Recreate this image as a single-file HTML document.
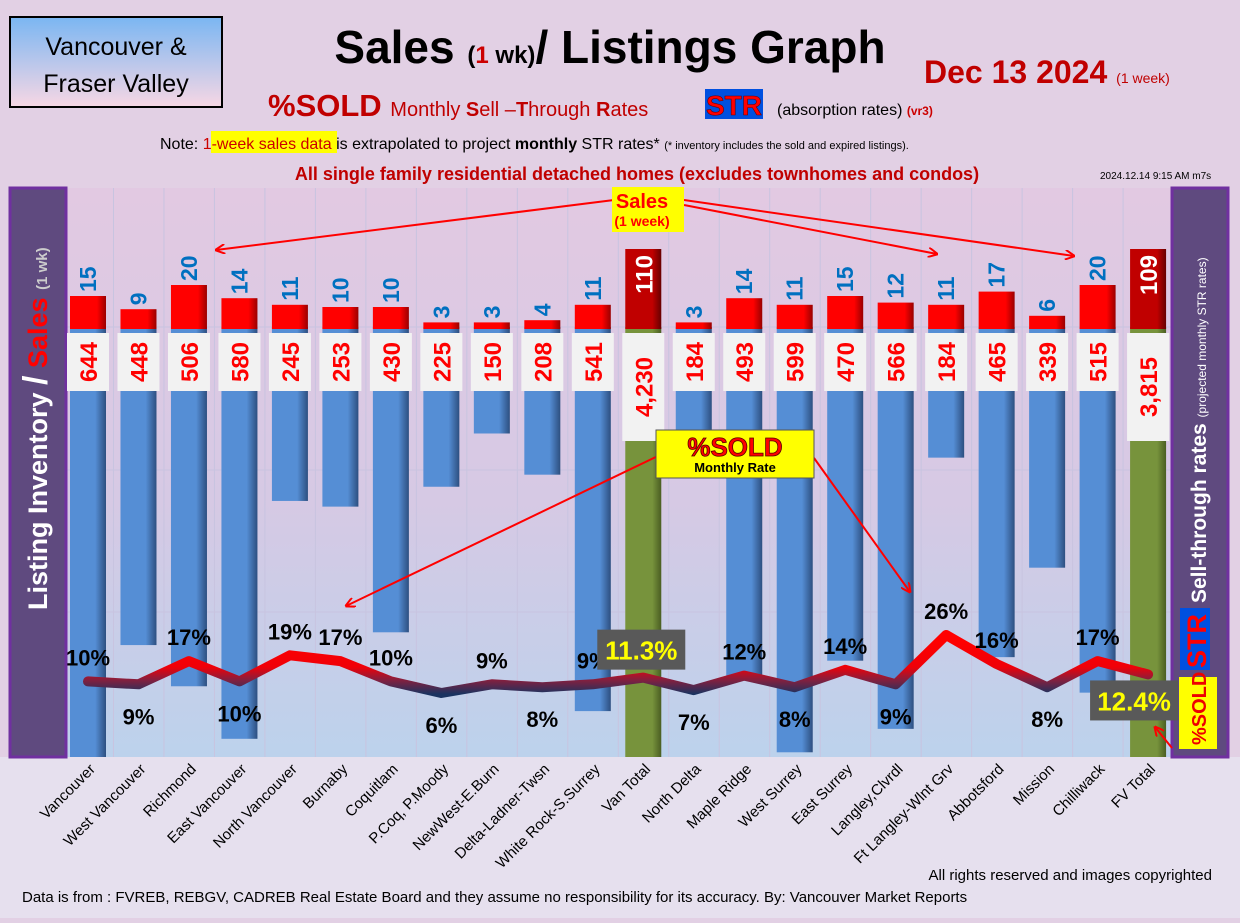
<!DOCTYPE html>
<html><head><meta charset="utf-8"><style>
body{margin:0;width:1240px;height:918px;overflow:hidden;background:#e2d0e4;font-family:"Liberation Sans",sans-serif}
svg text{font-family:"Liberation Sans",sans-serif}
</style></head><body>
<svg id="chart" width="1240" height="918" viewBox="0 0 1240 918" xmlns="http://www.w3.org/2000/svg">
<defs>
<linearGradient id="bg" x1="0" y1="0" x2="0" y2="1"><stop offset="0" stop-color="#e2c9e2"/><stop offset="0.55" stop-color="#d6c9e4"/><stop offset="1" stop-color="#bcd2ec"/></linearGradient>
<linearGradient id="hdr" x1="0" y1="0" x2="0" y2="1"><stop offset="0" stop-color="#7ab6f2"/><stop offset="1" stop-color="#f7d7e4"/></linearGradient>
<linearGradient id="blue" x1="0" x2="1"><stop offset="0" stop-color="#558ed5"/><stop offset="0.7" stop-color="#558ed5"/><stop offset="1" stop-color="#2d4f80"/></linearGradient>
<linearGradient id="red" x1="0" x2="1"><stop offset="0" stop-color="#ff0000"/><stop offset="0.75" stop-color="#ff0000"/><stop offset="1" stop-color="#900"/></linearGradient>
<linearGradient id="dred" x1="0" x2="1"><stop offset="0" stop-color="#c00000"/><stop offset="0.75" stop-color="#c00000"/><stop offset="1" stop-color="#600"/></linearGradient>
<linearGradient id="green" x1="0" x2="1"><stop offset="0" stop-color="#77933c"/><stop offset="0.75" stop-color="#77933c"/><stop offset="1" stop-color="#4a5e22"/></linearGradient>
<linearGradient id="line" gradientUnits="userSpaceOnUse" x1="0" y1="640" x2="0" y2="694"><stop offset="0" stop-color="#ff0000"/><stop offset="0.5" stop-color="#f00008"/><stop offset="0.75" stop-color="#802040"/><stop offset="1" stop-color="#1a3360"/></linearGradient>
<marker id="ah" markerWidth="10" markerHeight="10" refX="9" refY="5" orient="auto" markerUnits="userSpaceOnUse"><path d="M0,0 L10,5 L0,10" fill="none" stroke="#f00" stroke-width="2"/></marker>
</defs>
<rect x="0" y="0" width="1240" height="918" fill="#e2d0e4"/>
<rect x="0" y="757" width="1240" height="161" fill="#e6e0ee"/>
<rect x="66" y="188" width="1106" height="569" fill="url(#bg)"/>
<g id="grid"></g>
<rect x="10" y="17" width="212" height="90" fill="url(#hdr)" stroke="#000" stroke-width="2"/>
<text x="116" y="55" font-size="25" text-anchor="middle">Vancouver &amp;</text>
<text x="116" y="92" font-size="25" text-anchor="middle">Fraser Valley</text>
<text x="610" y="63" font-size="46" font-weight="bold" text-anchor="middle">Sales <tspan font-size="24">(<tspan fill="#c00">1</tspan> wk)</tspan>/ Listings Graph</text>
<text x="924" y="83" font-size="32" font-weight="bold" fill="#c00000">Dec 13  2024 <tspan font-size="14" font-weight="normal">(1 week)</tspan></text>
<text x="268" y="116" font-size="31" font-weight="bold" fill="#c00000">%SOLD <tspan font-size="20" font-weight="normal">Monthly <tspan font-weight="bold">S</tspan>ell –<tspan font-weight="bold">T</tspan>hrough <tspan font-weight="bold">R</tspan>ates</tspan></text>
<rect x="705" y="89" width="58" height="30" fill="#0050e0"/>
<text x="734" y="115" font-size="28" font-weight="bold" fill="#f00" text-anchor="middle" stroke="#600" stroke-width="0.6">STR</text>
<text x="777" y="115" font-size="16">(absorption rates) <tspan fill="#c00" font-weight="bold" font-size="12">(vr3)</tspan></text>
<rect x="211" y="131" width="126" height="22" fill="#ffff00"/>
<text x="160" y="149" font-size="16">Note: <tspan fill="#c00">1-week sales data</tspan> is extrapolated to project <tspan font-weight="bold">monthly</tspan> STR rates* <tspan font-size="11">(* inventory includes the sold and expired listings).</tspan></text>
<text x="637" y="180" font-size="18" font-weight="bold" fill="#c00000" text-anchor="middle">All single family residential detached homes (excludes townhomes and condos)</text>
<text x="1100" y="179" font-size="10">2024.12.14 9:15 AM m7s</text>
<rect x="10" y="188" width="56" height="569" fill="#5f4a7f" stroke="#7030a0" stroke-width="3"/>
<text transform="translate(47,610) rotate(-90)" font-size="27" font-weight="bold" fill="#fff">Listing Inventory <tspan font-size="34">/</tspan> <tspan fill="#f00">Sales</tspan> <tspan font-size="15" fill="#ccc">(1 wk)</tspan></text>
<rect x="1172" y="188" width="56" height="569" fill="#5f4a7f" stroke="#7030a0" stroke-width="3"/>
<rect x="1179" y="677" width="38" height="72" fill="#ffff00"/>
<text transform="translate(1206,745) rotate(-90)" font-size="20" font-weight="bold" fill="#e00">%SOLD</text>
<rect x="1180" y="608" width="30" height="62" fill="#0050e0"/>
<text transform="translate(1206,668) rotate(-90)" font-size="27" font-weight="bold" fill="#f00">STR</text>
<text transform="translate(1206,603) rotate(-90)" font-size="21" font-weight="bold" fill="#fff">Sell-through rates <tspan font-size="12" font-weight="normal">(projected monthly STR rates)</tspan></text>
<g id="bars"></g>
<g id="linegrp"></g>
<g id="labels"></g>
<g>
<line x1="614" y1="200" x2="216" y2="250" stroke="#f00" stroke-width="2" marker-end="url(#ah)"/>
<line x1="684" y1="205" x2="937" y2="254" stroke="#f00" stroke-width="2" marker-end="url(#ah)"/>
<line x1="684" y1="200" x2="1074" y2="256" stroke="#f00" stroke-width="2" marker-end="url(#ah)"/>
<rect x="612" y="187" width="72" height="45" fill="#ffff00"/>
<text x="642" y="208" font-size="20" font-weight="bold" fill="#f00" text-anchor="middle">Sales</text>
<text x="642" y="226" font-size="14" font-weight="bold" fill="#f00" text-anchor="middle">(1 week)</text>
</g>
<g>
<line x1="660" y1="455" x2="346" y2="606" stroke="#f00" stroke-width="2" marker-end="url(#ah)"/>
<line x1="814" y1="458" x2="910" y2="592" stroke="#f00" stroke-width="2" marker-end="url(#ah)"/>
<line x1="1172" y1="748" x2="1155" y2="727" stroke="#f00" stroke-width="2" marker-end="url(#ah)"/>
<rect x="656" y="430" width="158" height="48" fill="#ffff00" stroke="#555" stroke-width="1"/>
<text x="735" y="456" font-size="26" font-weight="bold" fill="#f00" stroke="#500" stroke-width="0.8" text-anchor="middle">%SOLD</text>
<text x="735" y="472" font-size="13" font-weight="bold" text-anchor="middle">Monthly Rate</text>
</g>
<text x="1212" y="880" font-size="15" text-anchor="end">All rights reserved and  images copyrighted</text>
<text x="22" y="902" font-size="15">Data is from : FVREB, REBGV, CADREB Real Estate Board and they assume no responsibility for its accuracy. By: Vancouver Market Reports</text>
</svg>
<script>
const categories=["Vancouver","West Vancouver","Richmond","East Vancouver","North Vancouver","Burnaby","Coquitlam","P.Coq, P.Moody","NewWest-E.Burn","Delta-Ladner-Twsn","White Rock-S.Surrey","Van Total","North Delta","Maple Ridge","West Surrey","East Surrey","Langley,Clvrdl","Ft Langley-Wlnt Grv","Abbotsford","Mission","Chilliwack","FV Total"];
const sales=[15,9,20,14,11,10,10,3,3,4,11,110,3,14,11,15,12,11,17,6,20,109];
const inventory=[644,448,506,580,245,253,430,225,150,208,541,4230,184,493,599,470,566,184,465,339,515,3815];
const strPct=[10,9,17,10,19,17,10,6,9,8,9,11.3,7,12,8,14,9,26,16,8,17,12.4];
const labelAbove=[1,0,1,0,1,1,1,0,1,0,1,1,0,1,0,1,0,1,1,0,1,0];
const isTotal=[0,0,0,0,0,0,0,0,0,0,0,1,0,0,0,0,0,0,0,0,0,1];
const NS="http://www.w3.org/2000/svg";
const X=i=>88+i*50.48;
const yInv=v=>Math.min(757,327+0.71*v);
const ySales=v=>Math.max(249,329-2.2*v);
const yPct=v=>710.4-2.9*v;
function mk(tag,attrs,parent,txt){const e=document.createElementNS(NS,tag);for(const k in attrs)e.setAttribute(k,attrs[k]);if(txt!==undefined)e.textContent=txt;parent.appendChild(e);return e;}
const grid=document.getElementById('grid'),bars=document.getElementById('bars'),lg=document.getElementById('linegrp'),lb=document.getElementById('labels');
for(let i=0;i<=categories.length;i++){mk('line',{x1:X(i)-25,y1:188,x2:X(i)-25,y2:757,stroke:'#c8c4e0','stroke-width':1},grid);}
[327,470,612].forEach(y=>mk('line',{x1:66,y1:y,x2:1172,y2:y,stroke:'#c8c4e0','stroke-width':1},grid));
categories.forEach((c,i)=>{
 const x=X(i);
 const b=mk('rect',{x:x-18,y:327,width:36,height:yInv(inventory[i])-327,fill:isTotal[i]?'url(#green)':'url(#blue)'},bars);
 
 
 const st=ySales(sales[i]);
 const r=mk('rect',{x:x-18,y:st,width:36,height:329-st,fill:isTotal[i]?'url(#dred)':'url(#red)'},bars);
 
 
 if(isTotal[i]){
  const t=mk('text',{transform:`translate(${x+9},${st+6}) rotate(-90)`,'font-size':24,'font-weight':'bold',fill:'#fff','text-anchor':'end'},lb,String(sales[i]));
  
  
 } else {
  const t=mk('text',{transform:`translate(${x+8},${st-4}) rotate(-90)`,'font-size':23,'font-weight':'bold',fill:'#0070c0'},lb,String(sales[i]));
  
  
 }
 const bh=isTotal[i]?108:58;
 mk('rect',{x:x-21,y:333,width:42,height:bh,fill:'#f2f2f2'},lb);
 const it=mk('text',{transform:`translate(${x+9},${333+bh/2}) rotate(-90)`,'font-size':24,'font-weight':'bold',fill:'#f00','text-anchor':'middle'},lb,inventory[i].toLocaleString('en-US'));
 
 
 const cl=mk('text',{transform:`translate(${x+8},770) rotate(-45)`,'font-size':15,'text-anchor':'end'},lb,c);
 
 
});
const pts=strPct.map((v,i)=>X(i)+','+yPct(v)).join(' ');
const pl=mk('polyline',{points:pts,fill:'none',stroke:'url(#line)','stroke-width':10,'stroke-linejoin':'round','stroke-linecap':'round'},lg);


strPct.forEach((v,i)=>{
 const x=X(i),y=yPct(v);
 if(isTotal[i]){
  const txt=v.toFixed(1)+'%';
  const by=labelAbove[i]?y-48:y+6;
  const bx=labelAbove[i]?x-46:x-58;
  mk('rect',{x:bx,y:by,width:88,height:40,fill:'#595959'},lb);
  const t=mk('text',{x:bx+44,y:by+30,'font-size':26,'font-weight':'bold',fill:'#ffff00','text-anchor':'middle'},lb,txt);
  
  
 } else {
  const ty=labelAbove[i]?y-16:y+40;
  const t=mk('text',{x:x,y:ty,'font-size':22,'font-weight':'bold',fill:'#000','text-anchor':'middle'},lb,Math.round(v)+'%');
  
  
 }
});
</script>
</body></html>
